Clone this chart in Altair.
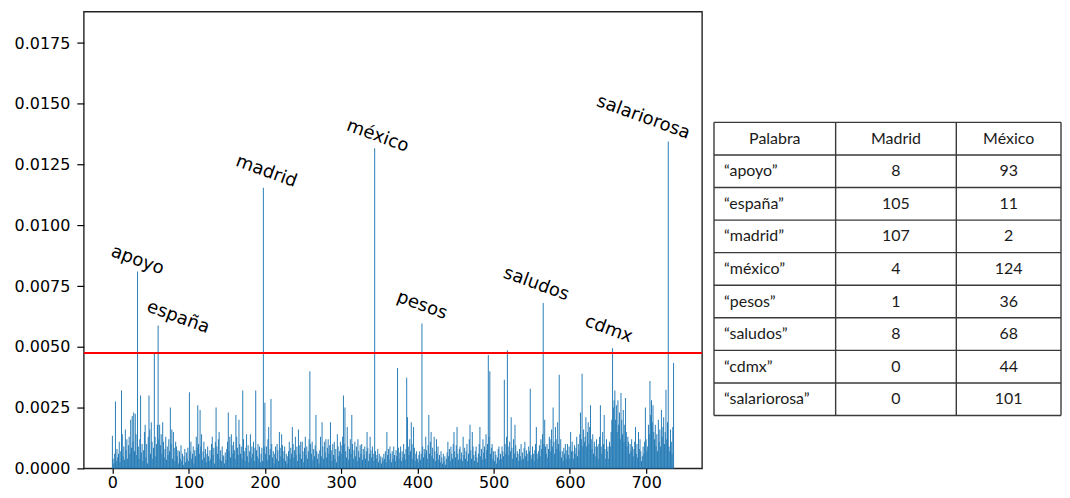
import math
import altair as alt
import pandas as pd

# ---------------- data (bar heights in units of 1e-5) ----------------
VALUES_E5 = [
    134, 40, 20, 60, 275, 30, 80, 45, 60, 110, 25, 70, 320, 140, 50, 90, 35, 160, 75, 120,
    40, 95, 130, 60, 200, 85, 215, 110, 230, 70, 225, 140, 55, 810, 90, 40, 120, 300, 65, 100,
    30, 75, 150, 180, 45, 100, 20, 130, 300, 160, 60, 190, 110, 40, 85, 474, 130, 50, 100, 180,
    588, 120, 180, 95, 140, 60, 190, 110, 45, 80, 130, 35, 90, 55, 120, 70, 250, 100, 160, 40,
    150, 85, 30, 110, 90, 50, 75, 20, 70, 40, 95, 30, 60, 15, 50, 80, 25, 65, 40, 85,
    30, 313, 70, 110, 40, 60, 90, 20, 75, 50, 130, 85, 260, 100, 60, 240, 90, 140, 35, 70,
    110, 45, 80, 25, 60, 90, 50, 30, 75, 40, 100, 130, 55, 85, 20, 110, 250, 90, 60, 120,
    150, 40, 75, 30, 90, 55, 50, 20, 65, 35, 80, 110, 230, 70, 130, 45, 140, 95, 60, 110,
    75, 40, 220, 130, 85, 55, 200, 100, 60, 90, 40, 320, 120, 70, 30, 85, 140, 50, 95, 25,
    70, 140, 45, 90, 60, 110, 30, 85, 320, 75, 50, 100, 40, 90, 25, 60, 85, 30, 1155, 90,
    270, 60, 90, 35, 120, 170, 55, 80, 285, 100, 45, 70, 20, 60, 90, 40, 100, 75, 30, 150,
    85, 50, 140, 95, 40, 70, 90, 30, 60, 20, 50, 70, 110, 40, 85, 60, 170, 100, 45, 75,
    130, 55, 90, 30, 160, 95, 60, 110, 40, 110, 70, 25, 85, 130, 55, 90, 40, 70, 120, 400,
    100, 60, 110, 35, 80, 50, 95, 220, 70, 40, 60, 20, 75, 130, 50, 190, 90, 40, 110, 65,
    120, 45, 85, 120, 60, 95, 190, 75, 30, 100, 55, 110, 40, 80, 25, 140, 90, 50, 70, 110,
    60, 95, 130, 300, 100, 250, 70, 45, 170, 90, 35, 80, 120, 60, 220, 100, 40, 75, 110, 50,
    90, 30, 120, 70, 45, 95, 60, 100, 35, 80, 55, 90, 40, 70, 150, 85, 30, 60, 130, 75,
    45, 90, 60, 30, 1317, 70, 40, 55, 80, 25, 60, 35, 50, 20, 45, 30, 60, 40, 70, 25,
    150, 55, 80, 35, 90, 60, 25, 70, 40, 90, 55, 30, 75, 50, 413, 85, 40, 65, 90, 30,
    70, 45, 100, 60, 35, 80, 373, 210, 90, 55, 120, 70, 190, 100, 40, 170, 85, 30, 60, 70,
    40, 25, 55, 70, 35, 60, 596, 90, 45, 80, 60, 130, 75, 40, 95, 220, 60, 110, 150, 50,
    85, 40, 130, 70, 30, 120, 60, 90, 35, 55, 25, 70, 45, 20, 60, 30, 50, 15, 40, 65,
    110, 50, 80, 30, 90, 60, 40, 100, 150, 70, 45, 95, 170, 60, 35, 80, 90, 40, 65, 30,
    130, 55, 85, 40, 70, 100, 30, 60, 120, 180, 75, 40, 150, 90, 55, 30, 70, 90, 45, 25,
    60, 100, 170, 50, 80, 35, 120, 65, 90, 40, 140, 75, 100, 466, 130, 400, 60, 85, 100, 40,
    70, 30, 70, 55, 20, 45, 80, 90, 35, 60, 40, 90, 70, 50, 365, 100, 60, 130, 486, 90,
    55, 110, 70, 210, 85, 40, 120, 60, 180, 95, 45, 70, 60, 30, 80, 50, 100, 35, 65, 40,
    85, 110, 50, 75, 60, 30, 90, 70, 328, 55, 40, 90, 60, 30, 75, 100, 170, 60, 40, 70,
    95, 50, 120, 80, 140, 680, 100, 200, 90, 60, 100, 45, 80, 130, 120, 70, 160, 90, 250, 110,
    60, 170, 120, 80, 190, 100, 385, 70, 120, 45, 70, 30, 85, 60, 100, 40, 75, 100, 55, 90,
    40, 150, 70, 110, 70, 40, 95, 60, 85, 130, 50, 100, 75, 140, 230, 120, 389, 90, 160, 110,
    130, 210, 90, 150, 190, 100, 170, 260, 120, 80, 140, 60, 110, 90, 50, 120, 90, 40, 100, 130,
    260, 90, 60, 150, 100, 220, 80, 40, 120, 70, 90, 40, 110, 90, 150, 200, 494, 250, 280, 320,
    200, 260, 150, 280, 180, 230, 120, 310, 200, 140, 240, 110, 180, 290, 150, 90, 130, 110, 60, 100,
    70, 120, 90, 50, 80, 110, 170, 60, 100, 45, 150, 80, 120, 70, 30, 50, 90, 60, 110, 250,
    120, 70, 90, 180, 140, 360, 220, 280, 190, 260, 150, 120, 180, 90, 140, 70, 200, 110, 160, 90,
    240, 130, 170, 210, 100, 150, 324, 120, 190, 1345, 90, 70, 160, 110, 60, 170, 434,
]

LABEL_WORDS = ["apoyo", "españa", "madrid", "méxico", "pesos", "saludos", "cdmx", "salariorosa"]
LABEL_IDX = [33, 60, 198, 344, 406, 565, 656, 729]
THRESHOLD = 0.00475

X_TICKS = [0, 100, 200, 300, 400, 500, 600, 700]
Y_TICKS = [0.0, 0.0025, 0.005, 0.0075, 0.01, 0.0125, 0.015, 0.0175]

TABLE_HEADER = ["Palabra", "Madrid", "México"]
TABLE_WORDS = ["“apoyo”", "“españa”", "“madrid”", "“méxico”", "“pesos”",
               "“saludos”", "“cdmx”", "“salariorosa”"]
MADRID_COUNTS = [8, 105, 107, 4, 1, 8, 0, 0]
MEXICO_COUNTS = [93, 11, 2, 124, 36, 68, 44, 101]

# ---------------- styles ----------------
BAR_COLOR = "#1f77b4"
FONT = "DejaVu Sans"
TABLE_FONT = "Lato"
PLOT_W, PLOT_H = 620, 458
TABLE_W = 348
ANGLE = 20
HALF_BAR = 0.62
# screen offsets (px) of each annotation's centre from its bar top
NUDGE = {
    "apoyo": (0, -11), "españa": (20, -8), "madrid": (3, -16), "méxico": (3, -12),
    "pesos": (0, -18), "saludos": (-7, -19), "cdmx": (-4, -19), "salariorosa": (-25, -24),
}

xscale = alt.Scale(domain=[-37.5, 773.3], nice=False, zero=False)
yscale = alt.Scale(domain=[0, 0.01879], nice=False, zero=True)

bars_df = pd.DataFrame({"idx": list(range(len(VALUES_E5))), "v": VALUES_E5})

bars = alt.Chart(bars_df).transform_calculate(
    pos=f"datum.idx - {HALF_BAR}", pos2=f"datum.idx + {HALF_BAR}", val="datum.v / 100000"
).mark_bar(color=BAR_COLOR).encode(
    x=alt.X("pos:Q", scale=xscale, title=None,
            axis=alt.Axis(values=X_TICKS, format="d", labelPadding=1, tickSize=5)),
    x2="pos2:Q",
    y=alt.Y("val:Q", scale=yscale, title=None,
            axis=alt.Axis(values=Y_TICKS, format=".4f", labelPadding=7, tickSize=7)),
    y2=alt.datum(0),
)

rule = alt.Chart(pd.DataFrame({"val": [THRESHOLD]})).mark_rule(
    color="#ff0000", strokeWidth=2
).encode(y=alt.Y("val:Q", scale=yscale, title=None))

texts = []
th = math.radians(ANGLE)
for w, i in zip(LABEL_WORDS, LABEL_IDX):
    ox, oy = NUDGE[w]
    dx = ox * math.cos(th) + oy * math.sin(th)
    dy = -ox * math.sin(th) + oy * math.cos(th)
    ldf = pd.DataFrame({"pos": [i], "val": [VALUES_E5[i] / 100000], "word": [w]})
    texts.append(
        alt.Chart(ldf).mark_text(
            angle=ANGLE, align="center", baseline="middle", dx=dx, dy=dy,
            font=FONT, fontSize=18, color="black"
        ).encode(
            x=alt.X("pos:Q", scale=xscale, title=None),
            y=alt.Y("val:Q", scale=yscale, title=None),
            text="word:N",
        )
    )

plot = alt.layer(bars, rule, *texts).properties(
    width=PLOT_W, height=PLOT_H,
    view=alt.ViewBackground(stroke="#222222", strokeWidth=1.4),
)

# ---------------- table ----------------
n_rows = len(TABLE_WORDS) + 1
tx = alt.Scale(domain=[0, 1, 2, 3], range=[0, 122, 243, TABLE_W], nice=False, zero=False)
ty = alt.Scale(domain=[0, n_rows], range=[111, 405], nice=False, zero=False)

h_df = pd.DataFrame({"r": list(range(n_rows + 1)), "c0": 0, "c1": 3})
v_df = pd.DataFrame({"c": [0, 1, 2, 3], "r0": 0, "r1": n_rows})

LINE_COLOR = "#3a3a3a"
hlines = alt.Chart(h_df).mark_rule(color=LINE_COLOR, strokeWidth=1.4).encode(
    x=alt.X("c0:Q", scale=tx, axis=None), x2="c1:Q",
    y=alt.Y("r:Q", scale=ty, axis=None),
)
vlines = alt.Chart(v_df).mark_rule(color=LINE_COLOR, strokeWidth=1.4).encode(
    x=alt.X("c:Q", scale=tx, axis=None),
    y=alt.Y("r0:Q", scale=ty, axis=None), y2="r1:Q",
)

center_rows = []
for c, h in enumerate(TABLE_HEADER):
    center_rows.append({"col": c + 0.5, "row": 0.5, "text": h})
for r, (m, x) in enumerate(zip(MADRID_COUNTS, MEXICO_COUNTS)):
    center_rows.append({"col": 1.5, "row": r + 1.5, "text": str(m)})
    center_rows.append({"col": 2.5, "row": r + 1.5, "text": str(x)})
left_rows = [{"col": 0, "row": r + 1.5, "text": w} for r, w in enumerate(TABLE_WORDS)]

tcenter = alt.Chart(pd.DataFrame(center_rows)).mark_text(
    align="center", baseline="middle", font=TABLE_FONT, fontSize=16, color="#1a1a1a"
).encode(
    x=alt.X("col:Q", scale=tx, axis=None),
    y=alt.Y("row:Q", scale=ty, axis=None),
    text="text:N",
)
tleft = alt.Chart(pd.DataFrame(left_rows)).mark_text(
    align="left", baseline="middle", dx=10, font=TABLE_FONT, fontSize=16, color="#1a1a1a"
).encode(
    x=alt.X("col:Q", scale=tx, axis=None),
    y=alt.Y("row:Q", scale=ty, axis=None),
    text="text:N",
)

table = alt.layer(hlines, vlines, tcenter, tleft).properties(
    width=TABLE_W, height=PLOT_H,
    view=alt.ViewBackground(strokeWidth=0),
)

chart = alt.hconcat(plot, table, spacing=9).properties(
    padding={"left": 5, "top": 2, "right": 0, "bottom": 0}
).configure_view(strokeWidth=0).configure_axis(
    domain=False, grid=False, tickColor="black", tickWidth=1.2,
    labelFont=FONT, labelFontSize=16, labelColor="black",
)

chart.save("out.html", embed_options={"renderer": "svg", "actions": False})
